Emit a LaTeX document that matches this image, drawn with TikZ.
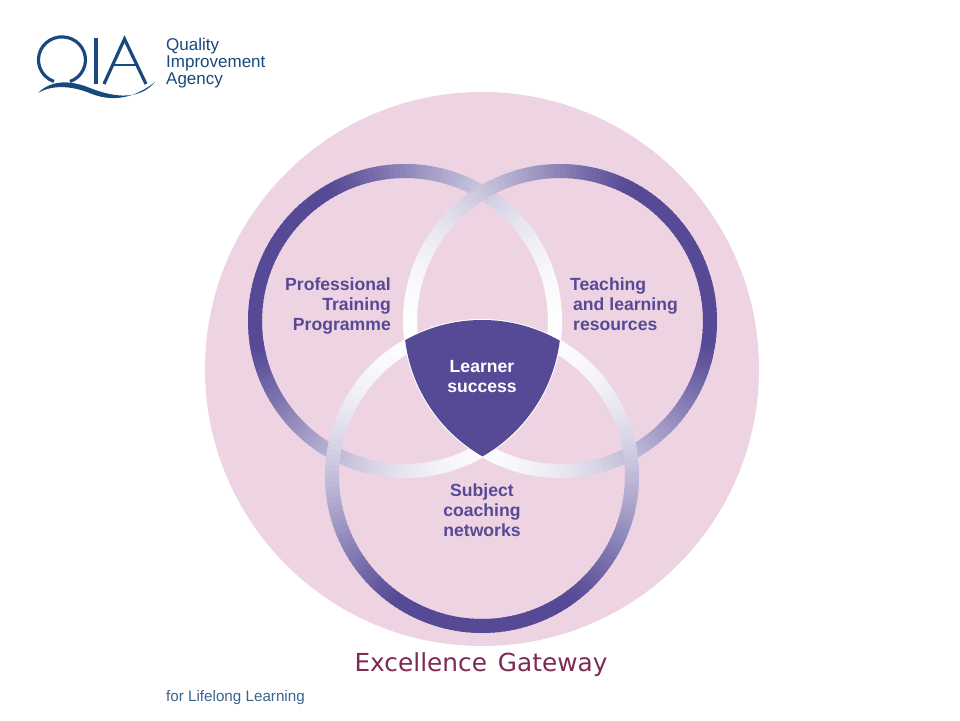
\documentclass[tikz,border=0pt]{standalone}
\usepackage{fontspec}
\setmainfont{Liberation Sans}
\newfontfamily\gatewayfont{DejaVu Sans}
\usepackage{tikz}

\definecolor{discpink}{HTML}{EED3E3}
\definecolor{ringviolet}{HTML}{564A96}
\definecolor{logoblue}{HTML}{17497C}
\definecolor{gatewayred}{HTML}{7E2A55}

\newcommand{\drawring}[2]{%
  \foreach \a in {0,2,...,358} {
    \pgfmathsetmacro{\halfcos}{(1+cos(\a-#2))/2}
    \pgfmathsetmacro{\mixval}{min(100,118*pow(\halfcos+0.001,1.7))}
    \draw[ring, color=ringviolet!\mixval!white]
      ([shift=(\a:150)]#1) arc (\a:\a+2.8:150);
  }%
}

\begin{document}
\begin{tikzpicture}[
    x=1pt,
    y=1pt,
    ring/.style={
      line width=14pt},
    circlelabel/.style={
      font=\fontsize{17.6}{20}\selectfont\bfseries,
      text=ringviolet,
      inner sep=0pt},
    logotext/.style={
      font=\fontsize{17}{17}\selectfont,
      text=logoblue,
      inner sep=0pt},
    logoline/.style={
      draw=logoblue,
      line width=3.2pt},
  ]
  \useasboundingbox (0,0) rectangle (960,720);

  \coordinate (bigcentre) at (482,351);
  \coordinate (leftcentre) at (405,399);
  \coordinate (rightcentre) at (560,399);
  \coordinate (lowcentre) at (482,244);

  \fill[discpink] (bigcentre) circle (277);

  % rings, the lower one lies on top
  \drawring{leftcentre}{154}
  \drawring{rightcentre}{26}
  \drawring{lowcentre}{270}

  % common part of the three circles
  \begin{scope}
    \clip (leftcentre) circle (156);
    \clip (rightcentre) circle (156);
    \fill[ringviolet] (lowcentre) circle (156);
  \end{scope}

  \node[circlelabel, align=right, anchor=east] (training) at (391,414.5) {Professional\\Training\\Programme};
  \node[circlelabel, align=left, anchor=west] (teaching) at (570,415.5) {Teaching\\\hspace*{3pt}and learning\\\hspace*{3pt}resources};
  \node[circlelabel, align=center] (coaching) at (482,210) {Subject\\coaching\\networks};
  \node[circlelabel, align=center, text=white] (success) at (482,343) {Learner\\success};

  % logo
  \draw[logoline] (70,638.5) arc (-70:250:23.5 and 23);
  \draw[logoline] (96,682) -- (96,636);
  \draw[logoline] (104,636) -- (124.5,681) -- (146,636);
  \draw[logoline, line width=2.6pt] (111,655) -- (138,655);
  \fill[logoblue] (38,627) .. controls (50,639) and (68,641) .. (90,632)
    .. controls (115,622) and (140,620) .. (155,638)
    .. controls (140,626) and (118,616) .. (92,626)
    .. controls (68,636) and (50,634) .. (38,627) -- cycle;
  \node[logotext, anchor=west] (quality) at (166,674) {Quality};
  \node[logotext, anchor=west] (improvement) at (166,657) {Improvement};
  \node[logotext, anchor=west] (agency) at (166,640) {Agency};

  \node[inner sep=0pt, text=gatewayred, font=\gatewayfont\fontsize{24.8}{30}\selectfont] (gateway) at (481,55) {Excellence\hspace{3pt} Gateway};
  \node[inner sep=0pt, anchor=west, text=logoblue!85!white, font=\fontsize{15.2}{17}\selectfont] (lifelong) at (166,22) {for Lifelong Learning};
\end{tikzpicture}
\end{document}
